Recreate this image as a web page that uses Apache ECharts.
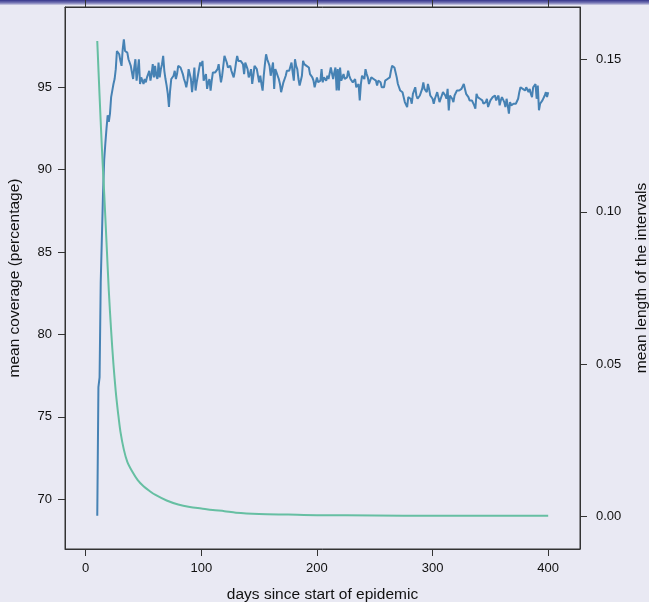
<!DOCTYPE html>
<html>
<head>
<meta charset="utf-8">
<script src="https://cdn.jsdelivr.net/npm/echarts@6/dist/echarts.min.js"></script>
<style>
  html, body { margin: 0; padding: 0; background: #e9e9f3; }
  #chart { width: 649px; height: 602px; }
</style>
</head>
<body>
<div id="chart"></div>
<script>
// Daily mean coverage (%) of the intervals, from day 10 to day 400
const firstDay = 10;
const coverage = [
  69.0, 76.8, 77.4, 83.2, 83.3, 88.6, 90.6, 91.6, 92.5, 93.3,
  92.9, 93.4, 94.4, 94.8, 95.2, 95.5, 96.1, 97.2, 97.1, 97.0,
  96.6, 96.3, 97.3, 97.9, 97.2, 97.1, 97.1, 96.7, 96.5, 96.3,
  96.2, 95.5, 96.2, 96.7, 95.4, 96.0, 96.7, 95.2, 95.6, 95.5,
  95.2, 95.5, 95.3, 95.6, 95.8, 96.0, 95.4, 95.8, 96.4, 95.6,
  96.3, 95.7, 95.5, 96.5, 95.6, 96.1, 96.4, 96.9, 96.0, 95.5,
  95.1, 94.6, 93.8, 94.8, 95.5, 95.6, 95.7, 96.0, 95.5, 95.8,
  96.3, 96.2, 96.2, 96.0, 95.8, 95.5, 95.3, 95.0, 95.4, 96.1,
  95.8, 95.5, 94.7, 95.4, 96.2, 94.8, 95.3, 95.7, 96.1, 96.5,
  96.3, 96.6, 95.4, 95.6, 95.8, 94.9, 95.3, 95.5, 94.8, 95.4,
  95.9, 96.0, 95.9, 96.0, 96.1, 96.4, 95.8, 95.3, 95.7, 96.3,
  96.9, 97.0, 96.5, 96.2, 96.2, 96.3, 96.0, 95.8, 95.6, 96.0,
  96.5, 96.9, 96.6, 96.5, 96.6, 96.5, 96.4, 95.8, 96.5, 96.3,
  96.1, 95.6, 95.8, 96.1, 95.2, 95.7, 96.3, 96.2, 96.1, 96.0,
  95.3, 95.7, 95.2, 94.8, 95.7, 96.4, 97.0, 96.7, 96.5, 96.3,
  95.7, 96.1, 96.5, 94.9, 96.1, 95.9, 95.7, 95.5, 95.2, 94.7,
  95.0, 95.3, 95.3, 95.7, 96.0, 96.1, 96.0, 95.9, 96.5, 95.9,
  95.4, 96.7, 96.3, 96.1, 95.5, 95.1, 95.4, 95.7, 96.6, 96.4,
  96.3, 96.3, 96.2, 96.2, 95.8, 95.7, 95.6, 95.4, 95.0, 95.3,
  95.6, 95.3, 95.2, 95.4, 96.1, 95.3, 95.6, 95.5, 95.4, 95.7,
  95.5, 95.6, 96.2, 96.1, 95.5, 95.9, 96.2, 94.8, 96.1, 94.8,
  96.2, 95.4, 95.6, 95.8, 95.5, 95.5, 95.6, 96.0, 95.7, 95.5,
  95.6, 95.3, 95.4, 95.5, 95.0, 95.1, 95.2, 94.2, 95.2, 95.7,
  95.6, 95.5, 96.1, 95.8, 95.6, 95.2, 95.4, 95.6, 95.7, 95.5,
  95.5, 95.4, 95.1, 95.4, 95.5, 95.3, 95.0, 94.9, 95.0, 95.4,
  95.5, 95.5, 95.5, 95.6, 96.0, 96.3, 96.3, 96.2, 96.2, 95.6,
  95.2, 95.0, 94.8, 94.8, 94.7, 94.6, 94.1, 94.0, 93.8, 94.4,
  94.3, 94.3, 94.0, 94.6, 94.8, 95.0, 94.5, 94.3, 94.2, 94.5,
  94.7, 94.9, 95.3, 94.9, 94.8, 94.7, 95.2, 94.9, 94.5, 94.6,
  94.3, 94.0, 94.3, 94.5, 94.7, 94.4, 94.1, 94.3, 94.5, 94.7,
  94.8, 94.5, 94.3, 94.9, 93.6, 94.5, 94.4, 94.3, 94.1, 94.5,
  94.6, 94.8, 94.9, 94.8, 94.8, 94.9, 95.0, 95.2, 94.9, 94.6,
  94.5, 94.4, 94.2, 94.3, 94.2, 94.1, 93.9, 93.7, 94.6, 94.4,
  94.3, 94.3, 94.4, 94.2, 94.0, 93.9, 94.1, 94.3, 93.8, 94.0,
  94.2, 94.1, 94.4, 94.3, 94.5, 94.2, 94.3, 94.5, 93.9, 94.2,
  94.4, 94.3, 94.1, 93.8, 94.3, 93.9, 93.4, 94.1, 93.9, 94.0,
  94.0, 94.1, 94.0, 94.1, 94.3, 94.7, 95.0, 95.1, 94.9, 94.9,
  94.8, 95.0, 94.9, 94.7, 94.9, 94.6, 94.4, 95.0, 95.1, 95.2,
  94.3, 95.1, 93.6, 94.0, 94.1, 94.2, 94.3, 94.5, 94.7, 94.4,
  94.7
];

// Mean length of the intervals, read at selected days
const lengthDays = [10, 12, 14, 16, 18, 20, 22, 24, 26, 28, 30, 33, 36, 40, 45, 50, 55, 60, 70, 80, 90, 100, 110, 120, 130, 150, 175, 200, 250, 300, 350, 400];
const lengthValues = [0.156, 0.138, 0.121, 0.106, 0.090, 0.074, 0.061, 0.050, 0.041, 0.034, 0.028, 0.022, 0.018, 0.0150, 0.0120, 0.0100, 0.0085, 0.0072, 0.0053, 0.0040, 0.0032, 0.0027, 0.0022, 0.0018, 0.0013, 0.0009, 0.0007, 0.0005, 0.0004, 0.0003, 0.0003, 0.0003];

// Tick positions
const dayTicks = [0, 100, 200, 300, 400];
const coverageTicks = [70, 75, 80, 85, 90, 95];
const lengthTicks = [0, 0.05, 0.10, 0.15];

const coveragePoints = coverage.map((v, i) => [firstDay + i, v]);
const lengthPoints = lengthDays.map((d, i) => [d, lengthValues[i]]);

const axisColor = '#333';
const labelStyle = { color: '#111', fontSize: 13, fontFamily: 'Liberation Sans, Arial, sans-serif' };
const nameStyle = { color: '#111', fontSize: 15.5, fontFamily: 'Liberation Sans, Arial, sans-serif' };

const chart = echarts.init(document.getElementById('chart'), null, { renderer: 'canvas' });
chart.setOption({
  backgroundColor: '#e9e9f3',
  animation: false,
  graphic: [{
    type: 'rect',
    z: -10,
    shape: { x: 0, y: 0, width: 649, height: 5 },
    style: {
      fill: new echarts.graphic.LinearGradient(0, 0, 0, 1, [
        { offset: 0, color: '#34348a' },
        { offset: 0.6, color: '#7c7cb8' },
        { offset: 1, color: '#d4d4e8' }
      ])
    }
  }],
  grid: {
    left: 65, top: 7, width: 515, height: 542,
    outerBoundsMode: 'none', containLabel: false,
    show: true, borderColor: axisColor, borderWidth: 1, backgroundColor: 'transparent'
  },
  xAxis: [{
    type: 'value', position: 'bottom', min: -17.9, max: 427.5,
    axisLine: { show: true, onZero: false, lineStyle: { color: axisColor } },
    axisTick: { show: true, length: 7, customValues: dayTicks, lineStyle: { color: axisColor } },
    axisLabel: Object.assign({ customValues: dayTicks, margin: 13 }, labelStyle),
    splitLine: { show: false },
    name: 'days since start of epidemic', nameLocation: 'middle', nameGap: 38,
    nameTextStyle: nameStyle
  }, {
    type: 'value', position: 'top', min: -17.9, max: 427.5,
    axisLine: { show: true, onZero: false, lineStyle: { color: axisColor } },
    axisTick: { show: true, length: 7, customValues: dayTicks, lineStyle: { color: axisColor } },
    axisLabel: { show: false },
    splitLine: { show: false }
  }],
  yAxis: [{
    type: 'value', position: 'left', min: 66.98, max: 99.87,
    axisLine: { show: true, onZero: false, lineStyle: { color: axisColor } },
    axisTick: { show: true, length: 7, customValues: coverageTicks, lineStyle: { color: axisColor } },
    axisLabel: Object.assign({ customValues: coverageTicks, margin: 13 }, labelStyle),
    splitLine: { show: false },
    name: 'mean coverage (percentage)', nameLocation: 'middle', nameGap: 42, nameRotate: 90,
    nameTextStyle: nameStyle
  }, {
    type: 'value', position: 'right', min: -0.0106, max: 0.16716,
    axisLine: { show: true, onZero: false, lineStyle: { color: axisColor } },
    axisTick: { show: true, length: 7, customValues: lengthTicks, lineStyle: { color: axisColor } },
    axisLabel: Object.assign({ customValues: lengthTicks, margin: 16, formatter: v => v.toFixed(2) }, labelStyle),
    splitLine: { show: false },
    name: 'mean length of the intervals', nameLocation: 'middle', nameGap: 54, nameRotate: 90,
    nameTextStyle: nameStyle
  }],
  series: [{
    type: 'line', xAxisIndex: 0, yAxisIndex: 0, data: coveragePoints,
    showSymbol: false, lineStyle: { color: '#4682b4', width: 2 }, z: 2
  }, {
    type: 'line', xAxisIndex: 0, yAxisIndex: 1, data: lengthPoints, smooth: 0.3,
    showSymbol: false, lineStyle: { color: '#66bfa2', width: 2 }, z: 3
  }]
});
</script>
</body>
</html>
